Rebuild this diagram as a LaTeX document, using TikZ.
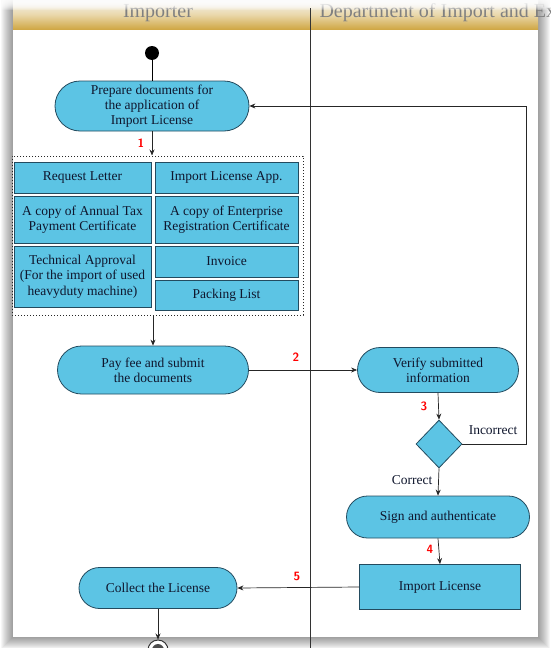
\documentclass[tikz,border=0pt]{standalone}
\usepackage{fontspec}
\setmainfont{Liberation Serif}
\usetikzlibrary{shapes.misc,shapes.geometric,arrows.meta}
\definecolor{actfill}{RGB}{92,196,228}
\definecolor{actline}{RGB}{35,75,95}
\definecolor{hdr}{RGB}{208,168,70}
\definecolor{txt}{RGB}{15,22,45}
\begin{document}
\begin{tikzpicture}[x=1pt,y=-1pt,
  act/.style={rounded rectangle, draw=actline, line width=0.8pt, fill=actfill, text=txt, align=center, font=\fontsize{13.5}{15}\selectfont, inner sep=1pt},
  cell/.style={rectangle, draw=actline, line width=0.6pt, fill=actfill, text=txt, align=center, font=\fontsize{13.5}{15.5}\selectfont, inner sep=1pt},
  flow/.style={-{Stealth[length=6pt,width=5pt]}, line width=0.7pt, draw=black!85},
  num/.style={text=red, font=\sffamily\bfseries\fontsize{12}{13}\selectfont},
  guard/.style={text=txt, font=\fontsize{13.5}{15}\selectfont},
  lanehead/.style={text=black!50, font=\fontsize{20}{22}\selectfont}]
\clip (0,0) rectangle (550,648);
\fill[white] (0,0) rectangle (550,648);
% panel shadow
\foreach \i in {1,...,12} \fill[black, opacity=0.035] (13-\i,-20) rectangle (538+\i,637+\i);
\fill[white] (13,-20) rectangle (538,637);
% header
\shade[top color=black!4, bottom color=hdr, middle color=hdr!45] (13,0) rectangle (538,29);
\node[lanehead, anchor=base] (hl) at (158,17) {Importer};
\node[lanehead, anchor=base west] (hr) at (316,17) {Department of Import and Export};
\foreach \i in {0,...,9} \fill[white, opacity=0.22] (0,0) rectangle (550,10-\i);
\coordinate (lanetop) at (310,8);
\coordinate (lanebot) at (310,648);
\draw[line width=0.7pt, black!80] (lanetop) -- (lanebot);
% nodes
\node[circle, fill=black, minimum size=14pt, inner sep=0pt] (start) at (152,53) {};
\node[act, minimum width=196pt, minimum height=50pt] (prep) at (152,106) {Prepare documents for\\the application of\\Import License};
\node[draw=black!85, dotted, line width=1pt, minimum width=291pt, minimum height=159pt, inner sep=0pt] (box) at (157.5,235.5) {};
\node[cell, minimum width=137pt, minimum height=31pt] (req) at (82.5,177.5) {Request Letter};
\node[cell, minimum width=143pt, minimum height=31pt] (app) at (226.5,177.5) {Import License App.};
\node[cell, minimum width=137pt, minimum height=47pt] (tax) at (82.5,219.5) {A copy of Annual Tax\\Payment Certificate};
\node[cell, minimum width=143pt, minimum height=47pt] (ent) at (226.5,219.5) {A copy of Enterprise\\Registration Certificate};
\node[cell, minimum width=137pt, minimum height=61pt] (tech) at (82.5,276.5) {Technical Approval\\(For the import of used\\heavyduty machine)};
\node[cell, minimum width=143pt, minimum height=31pt] (inv) at (226.5,261.5) {Invoice};
\node[cell, minimum width=143pt, minimum height=30pt] (pack) at (226.5,295) {Packing List};
\node[act, minimum width=193pt, minimum height=48pt] (pay) at (153,370) {Pay fee and submit\\the documents};
\node[act, minimum width=163pt, minimum height=45pt] (ver) at (438,370) {Verify submitted\\information};
\node[diamond, draw=actline, line width=0.8pt, fill=actfill, minimum width=46pt, minimum height=48pt, inner sep=0pt] (dia) at (439,444) {};
\node[act, minimum width=185pt, minimum height=42pt] (sign) at (438,517) {Sign and authenticate};
\node[cell, line width=0.8pt, minimum width=161pt, minimum height=45pt] (lic) at (440,587) {Import License};
\node[act, minimum width=160pt, minimum height=41pt] (col) at (158,588) {Collect the License};
\node[circle, draw=black!80, line width=1pt, fill=white, minimum size=20pt, inner sep=0pt] (end) at (158,650) {};
\node[circle, fill=black!70, minimum size=12pt, inner sep=0pt] (endin) at (end.center) {};
\coordinate (inc) at (526,106);
% connectors
\draw[line width=0.9pt] (start) -- (prep.north);
\draw[flow] (prep.south) -- (prep.south |- box.north);
\draw[flow] (pay.north |- box.south) -- (pay.north);
\draw[flow] (pay.east) -- (ver.west);
\draw[flow] (ver.south) -- (dia.north);
\draw[flow] (dia.east) -| (inc) -- (prep.east);
\draw[flow] (dia.south) -- (sign.north);
\draw[flow] (sign.south) -- (lic.north);
\draw[flow] (lic.west) -- (col.east);
\draw[flow] (col.south) -- (end.north);
% labels
\node[num] (n1) at (141,143) {1};
\node[num] (n2) at (296,357) {2};
\node[num] (n3) at (424,406) {3};
\node[num] (n4) at (430,549) {4};
\node[num] (n5) at (297,576) {5};
\node[guard, anchor=east] (lin) at (521,430) {Incorrect};
\node[guard, anchor=east] (lco) at (436,480) {Correct};
\end{tikzpicture}
\end{document}
